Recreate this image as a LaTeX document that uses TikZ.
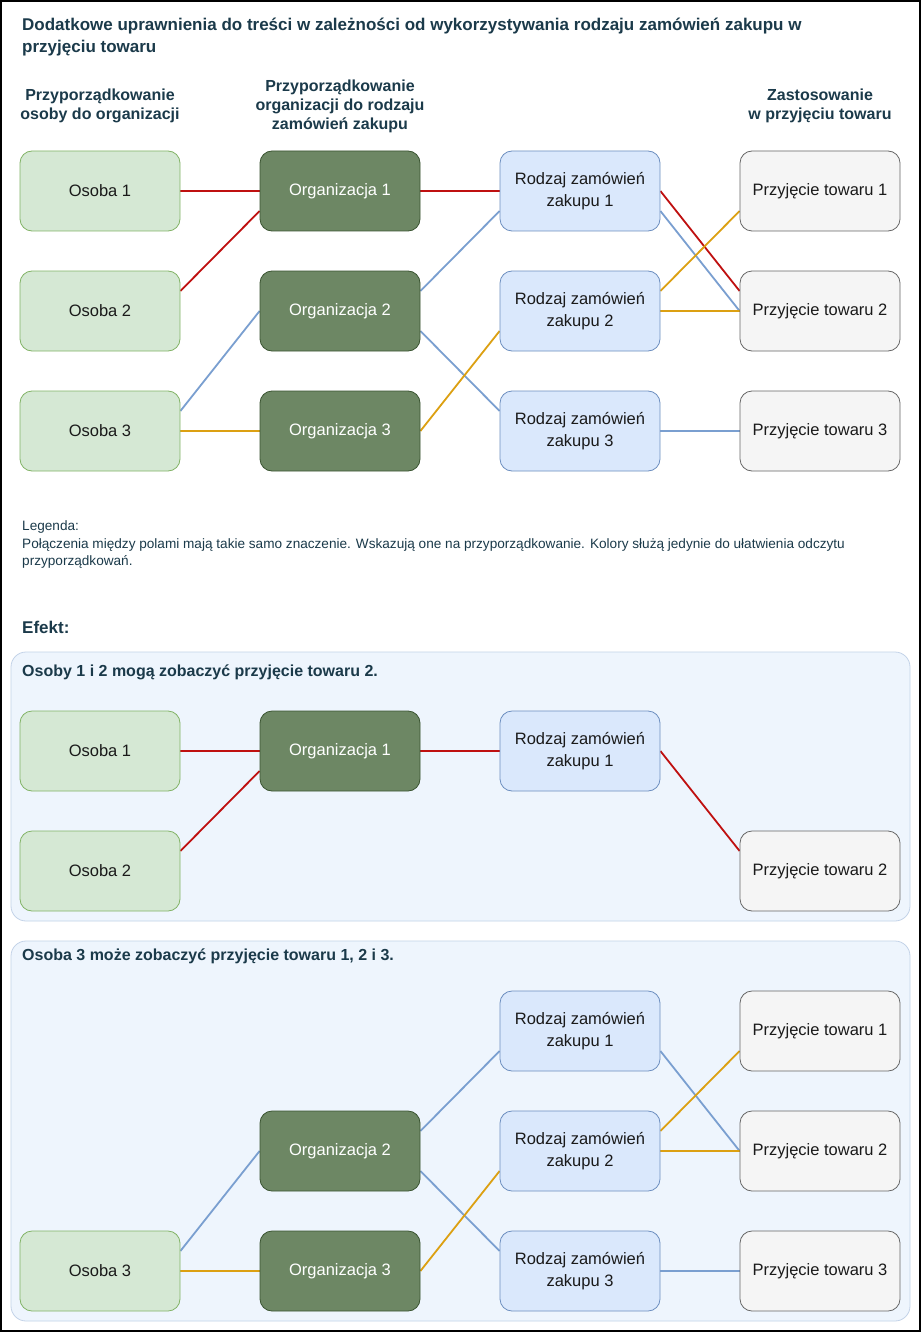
\documentclass[tikz,border=0pt]{standalone}
\usepackage{fontspec}
\setmainfont{Liberation Sans}
\definecolor{perfill}{HTML}{D5E8D4}
\definecolor{perline}{HTML}{82B366}
\definecolor{orgfill}{HTML}{6D8764}
\definecolor{orgline}{HTML}{3A5431}
\definecolor{rzfill}{HTML}{DAE8FC}
\definecolor{rzline}{HTML}{6C8EBF}
\definecolor{ptfill}{HTML}{F5F5F5}
\definecolor{ptline}{HTML}{666666}
\definecolor{cred}{HTML}{BF1010}
\definecolor{cblue}{HTML}{7A9FD0}
\definecolor{corange}{HTML}{DCA012}
\definecolor{panelfill}{HTML}{EEF5FD}
\definecolor{panelline}{HTML}{C3D3E8}
\definecolor{head}{HTML}{1B3A4A}
\definecolor{txt}{HTML}{1A1A1A}
\pgfdeclarelayer{bg}
\pgfdeclarelayer{lines}
\pgfsetlayers{bg,lines,main}
\begin{document}
\begin{tikzpicture}[x=1pt,y=-1pt,
  box/.style={rectangle, rounded corners=12pt, minimum width=160pt, minimum height=80pt, line width=0.8pt, align=center, font=\fontsize{16.5}{22}\selectfont, inner sep=0pt},
  per/.style={box, fill=perfill, draw=perline, text=txt},
  org/.style={box, fill=orgfill, draw=orgline, text=white},
  rz/.style={box, fill=rzfill, draw=rzline, text=txt},
  pt/.style={box, fill=ptfill, draw=ptline, text=txt},
  cr/.style={draw=cred, line width=1.8pt},
  cb/.style={draw=cblue, line width=1.8pt},
  co/.style={draw=corange, line width=1.8pt},
  panel/.style={fill=panelfill, draw=panelline, line width=0.8pt, rounded corners=15pt},
  ttl/.style={anchor=base west, inner sep=0pt, text=head, font=\fontsize{17}{20}\selectfont\bfseries},
  hdr/.style={anchor=center, inner sep=0pt, align=center, text=head, font=\fontsize{16}{19}\selectfont\bfseries},
  ptitle/.style={anchor=base west, inner sep=0pt, text=head, font=\fontsize{16}{18}\selectfont\bfseries},
  leg/.style={anchor=base west, inner sep=0pt, text=head, font=\fontsize{13.6}{15}\selectfont},
]
\useasboundingbox (0,0) rectangle (921,1332);
\begin{pgfonlayer}{bg}
\fill[white] (0,0) rectangle (921,1332);
\end{pgfonlayer}

% texts
\node[ttl] (t1) at (22,31) {Dodatkowe uprawnienia do treści w zależności od wykorzystywania rodzaju zamówień zakupu w};
\node[ttl] (t2) at (22,53) {przyjęciu towaru};
\node[hdr] (h1) at (100,106) {Przyporządkowanie\\osoby do organizacji};
\node[hdr] (h2) at (340,106) {Przyporządkowanie\\organizacji do rodzaju\\zamówień zakupu};
\node[hdr] (h4) at (820,106) {Zastosowanie\\w przyjęciu towaru};

% top diagram
\node[per] (o1) at (100,191) {Osoba 1};
\node[per] (o2) at (100,311) {Osoba 2};
\node[per] (o3) at (100,431) {Osoba 3};
\node[org] (g1) at (340,191) {Organizacja 1};
\node[org] (g2) at (340,311) {Organizacja 2};
\node[org] (g3) at (340,431) {Organizacja 3};
\node[rz] (r1) at (580,191) {Rodzaj zamówień\\zakupu 1};
\node[rz] (r2) at (580,311) {Rodzaj zamówień\\zakupu 2};
\node[rz] (r3) at (580,431) {Rodzaj zamówień\\zakupu 3};
\node[pt] (p1) at (820,191) {Przyjęcie towaru 1};
\node[pt] (p2) at (820,311) {Przyjęcie towaru 2};
\node[pt] (p3) at (820,431) {Przyjęcie towaru 3};

\begin{pgfonlayer}{lines}
\draw[cr] (o1.east) -- (g1.west);
\draw[cr] ([yshift=20pt]o2.east) -- ([yshift=-20pt]g1.west);
\draw[cb] ([yshift=20pt]o3.east) -- (g2.west);
\draw[co] (o3.east) -- (g3.west);
\draw[cr] (g1.east) -- (r1.west);
\draw[cb] ([yshift=20pt]g2.east) -- ([yshift=-20pt]r1.west);
\draw[cb] ([yshift=-20pt]g2.east) -- ([yshift=20pt]r3.west);
\draw[co] (g3.east) -- ([yshift=-20pt]r2.west);
\draw[cr] (r1.east) -- ([yshift=20pt]p2.west);
\draw[cb] ([yshift=-20pt]r1.east) -- (p2.west);
\draw[co] ([yshift=20pt]r2.east) -- ([yshift=-20pt]p1.west);
\draw[co] (r2.east) -- (p2.west);
\draw[cb] (r3.east) -- (p3.west);
\end{pgfonlayer}

% legend
\node[leg] (l1) at (22,530) {Legenda:};
\node[leg] (l2) at (22,548) {Połączenia między polami mają takie samo znaczenie. Wskazują one na przyporządkowanie. Kolory służą jedynie do ułatwienia odczytu};
\node[leg] (l3) at (22,565) {przyporządkowań.};
\node[ttl] (ef) at (22,633) {Efekt:};

% panels
\begin{pgfonlayer}{bg}
\draw[panel] (11,652) rectangle (910,921);
\draw[panel] (11,941) rectangle (910,1321);
\end{pgfonlayer}

% panel 1
\node[ptitle] (pa) at (22,676) {Osoby 1 i 2 mogą zobaczyć przyjęcie towaru 2.};
\node[per] (ao1) at (100,751) {Osoba 1};
\node[per] (ao2) at (100,871) {Osoba 2};
\node[org] (ag1) at (340,751) {Organizacja 1};
\node[rz] (ar1) at (580,751) {Rodzaj zamówień\\zakupu 1};
\node[pt] (ap2) at (820,871) {Przyjęcie towaru 2};
\begin{pgfonlayer}{lines}
\draw[cr] (ao1.east) -- (ag1.west);
\draw[cr] ([yshift=20pt]ao2.east) -- ([yshift=-20pt]ag1.west);
\draw[cr] (ag1.east) -- (ar1.west);
\draw[cr] (ar1.east) -- ([yshift=20pt]ap2.west);
\end{pgfonlayer}

% panel 2
\node[ptitle] (pb) at (22,960) {Osoba 3 może zobaczyć przyjęcie towaru 1, 2 i 3.};
\node[rz] (br1) at (580,1031) {Rodzaj zamówień\\zakupu 1};
\node[pt] (bp1) at (820,1031) {Przyjęcie towaru 1};
\node[org] (bg2) at (340,1151) {Organizacja 2};
\node[rz] (br2) at (580,1151) {Rodzaj zamówień\\zakupu 2};
\node[pt] (bp2) at (820,1151) {Przyjęcie towaru 2};
\node[per] (bo3) at (100,1271) {Osoba 3};
\node[org] (bg3) at (340,1271) {Organizacja 3};
\node[rz] (br3) at (580,1271) {Rodzaj zamówień\\zakupu 3};
\node[pt] (bp3) at (820,1271) {Przyjęcie towaru 3};
\begin{pgfonlayer}{lines}
\draw[cb] ([yshift=20pt]bo3.east) -- (bg2.west);
\draw[co] (bo3.east) -- (bg3.west);
\draw[cb] ([yshift=20pt]bg2.east) -- ([yshift=-20pt]br1.west);
\draw[cb] ([yshift=-20pt]bg2.east) -- ([yshift=20pt]br3.west);
\draw[co] (bg3.east) -- ([yshift=-20pt]br2.west);
\draw[cb] ([yshift=-20pt]br1.east) -- (bp2.west);
\draw[co] ([yshift=20pt]br2.east) -- ([yshift=-20pt]bp1.west);
\draw[co] (br2.east) -- (bp2.west);
\draw[cb] (br3.east) -- (bp3.west);
\end{pgfonlayer}

% outer frame
\draw[black, line width=2pt] (1,1) rectangle (920,1331);
\end{tikzpicture}
\end{document}
